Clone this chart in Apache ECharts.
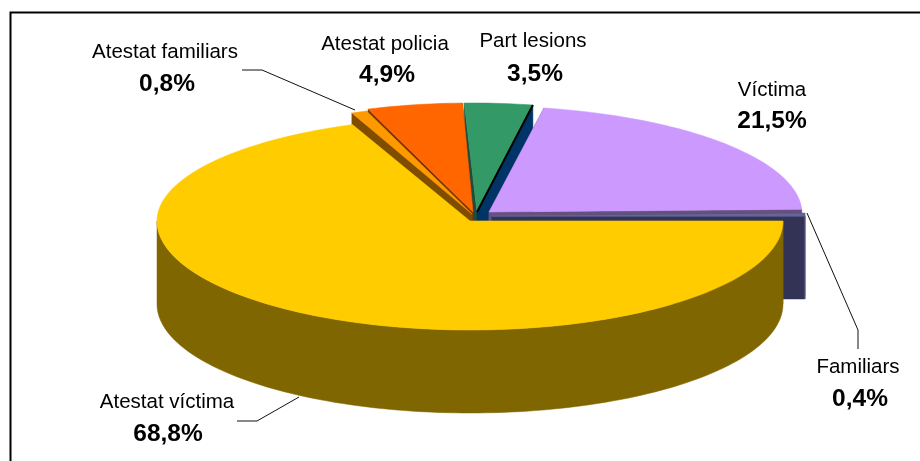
<!DOCTYPE html>
<html><head><meta charset="utf-8">
<style>html,body{margin:0;padding:0;background:#fff}#c{width:920px;height:461px}</style>
<script src="https://cdn.jsdelivr.net/npm/echarts@6/dist/echarts.min.js"></script>
</head><body><div id="c"></div>
<script>
// Data, clockwise from due east
const categories = ['Atestat víctima','Atestat familiars','Atestat policia','Part lesions','Víctima','Familiars'];
const shares = [68.8,0.8,4.9,3.5,21.5,0.4];

// Look
const topColors  = ['#FFCC00','#FF9900','#FF6600','#339966','#CC99FF','#666699'];
const sideColors = ['#806600','#804D00','#7F3300','#1F4D3A','#665080','#333355'];
// extra look for the far cut face of a slice (start edge / end edge)
const endSideColors = {3:'#003366'};
const endEdgeColors = {3:'#000000',5:'#666699'};
// exploded offset, and skew of the far rim
const slices = [
  {dx:0,dy:0,skew:0,ry:104},
  {dx:2,dy:-7,skew:0.025,ry:109},
  {dx:3,dy:-9,skew:0.02,ry:109},
  {dx:7,dy:-9,skew:0.04,ry:109},
  {dx:19,dy:-9,skew:0.05,ry:106},
  {dx:22,dy:-5,skew:0,ry:109}
];
const paintOrder = [3,2,1,4,5,0];
const CX=470, CY=221, RX=313, RY=109, DEPTH=83;
const textPos = [
  [167,402,168,434],[165,52,167,84],[385,44,387,75],[533,41,535,74],[772,90,772,121],[858,367,860,399]
];
const leaders = [
  [[242,70],[262,70],[355,110]],
  [[807,213],[858,330],[858,349]],
  [[237,421],[257,421],[299,397]]
];

const total = shares.reduce((a,b)=>a+b,0);
const starts = []; shares.reduce((a,v,i)=>{starts[i]=a;return a+v*360/total;},0);

function pt(i,deg,yOff){
  const s=slices[i], t=deg*Math.PI/180, sn=Math.sin(t);
  const ry = sn<0 ? s.ry : RY;
  const y = ry*sn;
  const x = RX*Math.cos(t) + (y<0 ? s.skew*y : 0);
  return [CX+s.dx+x, CY+s.dy+y+(yOff||0)];
}
function apex(i,yOff){return [CX+slices[i].dx, CY+slices[i].dy+(yOff||0)];}

function renderItem(params, api){
  const i = api.value(0);
  const a0 = starts[i], a1 = a0 + shares[i]*360/total;
  const kids = [];
  const poly=(points,fill,stroke,lw)=>kids.push({type:'polygon',shape:{points},style:{fill,stroke:stroke||fill,lineWidth:lw==null?0.5:lw}});
  // cut faces
  poly([apex(i),pt(i,a0),pt(i,a0,DEPTH),apex(i,DEPTH)],sideColors[i]);
  poly([apex(i),pt(i,a1),pt(i,a1,DEPTH),apex(i,DEPTH)],endSideColors[i]||sideColors[i]);
  // front rim
  const lo=Math.max(a0,0), hi=Math.min(a1,180);
  if(hi>lo){
    const up=[],dn=[];
    for(let d=lo;d<=hi+0.001;d+=1.5){up.push(pt(i,d));dn.unshift(pt(i,d,DEPTH));}
    poly(up.concat(dn),sideColors[i]);
  }
  // top
  const top=[apex(i)];
  const n=Math.max(2,Math.ceil((a1-a0)/1.5));
  for(let k=0;k<=n;k++) top.push(pt(i,a0+(a1-a0)*k/n));
  poly(top,topColors[i]);
  if(endEdgeColors[i]!==undefined){
    kids.push({type:'polyline',shape:{points:[apex(i),pt(i,a1)]},style:{fill:'none',stroke:endEdgeColors[i],lineWidth:i===3?2:1}});
    if(i===5) kids.push({type:'polyline',shape:{points:[pt(i,a1),pt(i,a1,DEPTH)]},style:{fill:'none',stroke:'#666699',lineWidth:1}});
  }
  // labels
  const p=textPos[i];
  kids.push({type:'text',style:{text:categories[i],x:p[0],y:p[1],align:'center',verticalAlign:'middle',fill:'#000',fontFamily:'Liberation Sans',fontSize:20.5}});
  kids.push({type:'text',style:{text:shares[i].toFixed(1).replace('.',',')+'%',x:p[2],y:p[3],align:'center',verticalAlign:'middle',fill:'#000',fontFamily:'Liberation Sans',fontWeight:'bold',fontSize:24.5}});
  return {type:'group',children:kids};
}

const chart = echarts.init(document.getElementById('c'),null,{renderer:'canvas'});
chart.setOption({
  animation:false,
  backgroundColor:'#fff',
  graphic:[
    {type:'polyline',silent:true,z:10,shape:{points:[[10.5,461],[10.5,12.5],[920,12.5]]},style:{fill:'none',stroke:'#000',lineWidth:2}}
  ].concat(leaders.map(points=>({type:'polyline',silent:true,z:10,shape:{points},style:{fill:'none',stroke:'#111',lineWidth:1}}))),
  series:[{
    type:'custom',silent:true,coordinateSystem:'none',
    renderItem,
    data:paintOrder.map(i=>[i])
  }]
});
</script></body></html>
